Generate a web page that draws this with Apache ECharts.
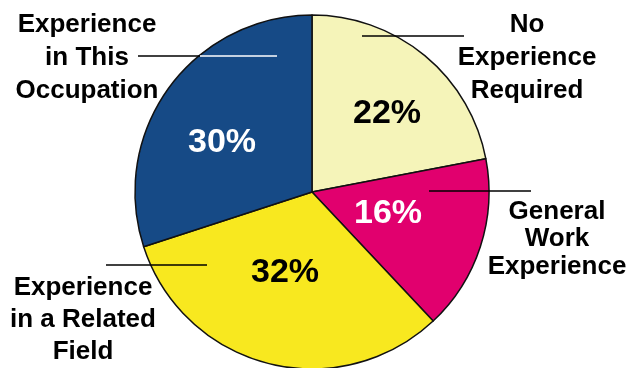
<!DOCTYPE html>
<html>
<head>
<meta charset="utf-8">
<script src="https://cdn.jsdelivr.net/npm/echarts@6/dist/echarts.min.js"></script>
<style>
  html, body { margin: 0; padding: 0; background: #fff; }
  #chart { width: 633px; height: 368px; }
</style>
</head>
<body>
<div id="chart"></div>
<script>
// data
const categories = ['No Experience Required', 'General Work Experience', 'Experience in a Related Field', 'Experience in This Occupation']
const shares = [22, 16, 32, 30]
// label text as broken in the picture
const labelLines = [
  ['No', 'Experience', 'Required'],
  ['General', 'Work', 'Experience'],
  ['Experience', 'in a Related', 'Field'],
  ['Experience', 'in This', 'Occupation']
]

// look
const sliceColors = ['#F5F4B9', '#E1006E', '#F8E81F', '#164A86']
const pctColors = ['#000', '#fff', '#000', '#fff']
const pctPos = [[387, 114], [388, 214], [285, 273], [222, 143]]
// category label block: centre x, top y, line height
const namePos = [[527, 8, 33], [557, 198, 27.5], [83, 272, 32], [87, 8, 33]]
// leader lines [x1, x2, y, colour]
const leaders = [
  [362, 464, 36, '#000'],
  [429, 531, 191, '#000'],
  [106, 207, 265, '#000'],
  [138, 200, 56, '#000'],
  [200, 277, 56, '#fff']
]

const chart = echarts.init(document.getElementById('chart'))

const graphic = []
leaders.forEach(l => {
  graphic.push({
    type: 'line',
    shape: { x1: l[0], y1: l[2], x2: l[1], y2: l[2] },
    style: { stroke: l[3], lineWidth: 1.5 },
    z: 100
  })
})
labelLines.forEach((lines, i) => {
  graphic.push({
    type: 'text',
    x: namePos[i][0],
    y: namePos[i][1],
    style: {
      text: lines.join('\n'),
      font: 'bold 26px "Liberation Sans", Arial, sans-serif',
      fill: '#000',
      align: 'center',
      verticalAlign: 'top',
      lineHeight: namePos[i][2]
    },
    z: 100
  })
})

const option = {
  backgroundColor: '#fff',
  animation: false,
  series: [
    {
      type: 'pie',
      center: [312, 192],
      radius: 177,
      startAngle: 90,
      clockwise: true,
      avoidLabelOverlap: false,
      data: categories.map((name, i) => ({
        name: name,
        value: shares[i],
        itemStyle: { color: sliceColors[i] },
        label: { color: pctColors[i] }
      })),
      itemStyle: {
        borderColor: '#111',
        borderWidth: 1.5
      },
      label: {
        show: true,
        position: 'inside',
        formatter: '{c}%',
        fontFamily: '"Liberation Sans", Arial, sans-serif',
        fontWeight: 'bold',
        fontSize: 34
      },
      labelLine: { show: false },
      labelLayout: params => ({
        x: pctPos[params.dataIndex][0],
        y: pctPos[params.dataIndex][1],
        align: 'center',
        verticalAlign: 'middle'
      }),
      emphasis: { disabled: true }
    }
  ],
  graphic: graphic
}

chart.setOption(option)
window.addEventListener('resize', () => chart.resize())
</script>
</body>
</html>
